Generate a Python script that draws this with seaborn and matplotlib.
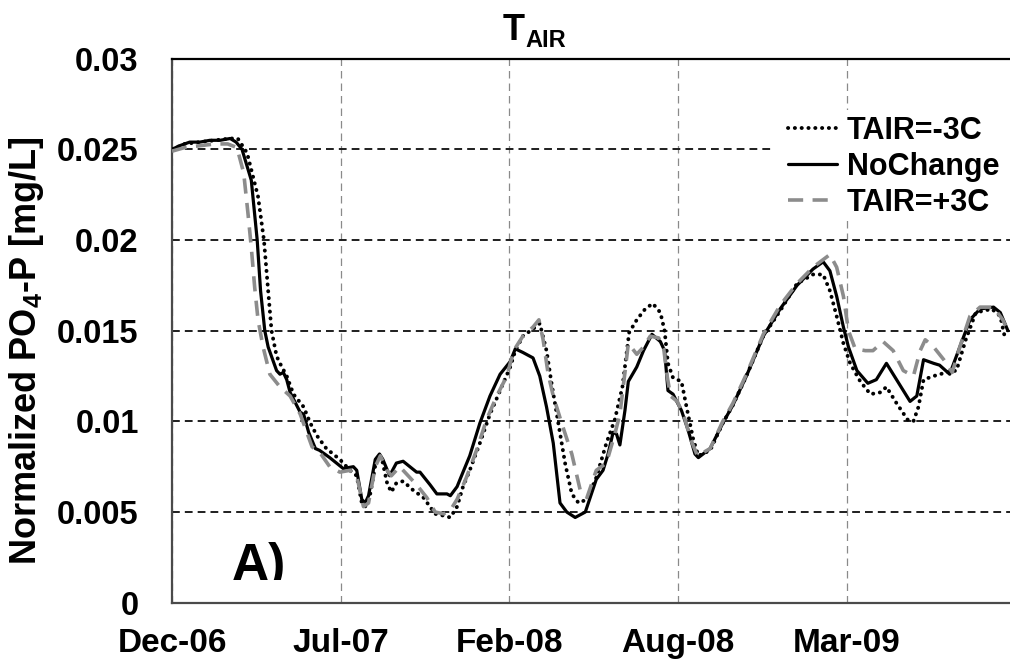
import matplotlib
matplotlib.use("Agg")
import matplotlib.pyplot as plt
import seaborn as sns
import pandas as pd
from matplotlib.patches import Rectangle
from matplotlib.transforms import Bbox, TransformedBbox

# ---------------- data (days since Dec-06, normalized PO4-P mg/L) ----------------
days_minus3 = [0, 15, 33, 51, 69, 78, 89, 102, 109, 114,
               118, 124, 128, 136, 144, 156, 164, 172, 183, 199,
               211, 219, 225, 229, 235, 243, 249, 255, 260, 266,
               274, 286, 298, 312, 322, 330, 338, 345, 353, 365,
               377, 389, 401, 407, 416, 428, 436, 444, 450, 458,
               466, 474, 482, 492, 503, 515, 525, 534, 542, 551,
               561, 570, 579, 584, 588, 594, 604, 610, 618, 624,
               638, 653, 665, 681, 701, 721, 741, 760, 772, 780,
               788, 796, 804, 816, 828, 840, 847, 859, 872, 879,
               885, 891, 903, 918, 930, 941, 953, 972, 982, 988]
po4_minus3 = [0.0250, 0.0253, 0.0254, 0.0255, 0.0256, 0.0256, 0.0248, 0.0224, 0.0200, 0.0172,
              0.0150, 0.0136, 0.0132, 0.0125, 0.0115, 0.0108, 0.0099, 0.0092, 0.0085, 0.0079,
              0.0073, 0.0070, 0.0055, 0.0053, 0.0060, 0.0081, 0.0079, 0.0066, 0.0061, 0.0066,
              0.0067, 0.0062, 0.0058, 0.0049, 0.0048, 0.0047, 0.0053, 0.0064, 0.0073, 0.0088,
              0.0104, 0.0117, 0.0130, 0.0139, 0.0147, 0.0151, 0.0154, 0.0139, 0.0121, 0.0099,
              0.0077, 0.0060, 0.0055, 0.0057, 0.0069, 0.0088, 0.0101, 0.0119, 0.0149, 0.0156,
              0.0162, 0.0165, 0.0160, 0.0150, 0.0132, 0.0124, 0.0122, 0.0108, 0.0090, 0.0081,
              0.0084, 0.0099, 0.0109, 0.0125, 0.0147, 0.0161, 0.0176, 0.0181, 0.0181, 0.0172,
              0.0158, 0.0143, 0.0132, 0.0122, 0.0115, 0.0116, 0.0119, 0.0110, 0.0101, 0.0100,
              0.0108, 0.0123, 0.0125, 0.0127, 0.0128, 0.0145, 0.0160, 0.0162, 0.0158, 0.0145]

days_nochange = [0, 9, 21, 33, 45, 57, 69, 76, 83, 94,
                 101, 105, 110, 114, 124, 128, 132, 136, 140, 152,
                 156, 162, 170, 175, 187, 203, 215, 219, 225, 229,
                 233, 241, 246, 250, 258, 266, 274, 282, 290, 294,
                 306, 314, 320, 326, 330, 338, 345, 353, 365, 377,
                 389, 401, 407, 416, 428, 436, 444, 452, 460, 468,
                 478, 490, 503, 511, 517, 523, 527, 531, 537, 541,
                 551, 559, 569, 579, 584, 588, 594, 604, 612, 620,
                 624, 638, 653, 665, 681, 701, 721, 741, 760, 772,
                 780, 788, 796, 802, 812, 825, 835, 847, 859, 875,
                 883, 891, 903, 910, 922, 934, 946, 958, 974, 982,
                 991]
po4_nochange = [0.0250, 0.0252, 0.0254, 0.0254, 0.0255, 0.0255, 0.0256, 0.0254, 0.0250, 0.0233,
                0.0200, 0.0172, 0.0150, 0.0141, 0.0128, 0.0126, 0.0127, 0.0123, 0.0116, 0.0105,
                0.0104, 0.0094, 0.0085, 0.0084, 0.0080, 0.0074, 0.0075, 0.0073, 0.0057, 0.0055,
                0.0059, 0.0079, 0.0082, 0.0079, 0.0070, 0.0077, 0.0078, 0.0075, 0.0072, 0.0072,
                0.0065, 0.0060, 0.0060, 0.0060, 0.0059, 0.0064, 0.0072, 0.0081, 0.0099, 0.0114,
                0.0126, 0.0133, 0.0140, 0.0138, 0.0135, 0.0125, 0.0108, 0.0088, 0.0055, 0.0050,
                0.0047, 0.0050, 0.0068, 0.0073, 0.0082, 0.0094, 0.0093, 0.0087, 0.0106, 0.0122,
                0.0130, 0.0139, 0.0148, 0.0144, 0.0139, 0.0117, 0.0115, 0.0106, 0.0095, 0.0082,
                0.0080, 0.0085, 0.0099, 0.0109, 0.0125, 0.0147, 0.0162, 0.0175, 0.0184, 0.0188,
                0.0183, 0.0169, 0.0152, 0.0141, 0.0128, 0.0121, 0.0123, 0.0132, 0.0123, 0.0111,
                0.0114, 0.0134, 0.0132, 0.0131, 0.0126, 0.0141, 0.0156, 0.0162, 0.0163, 0.0160,
                0.0150]

days_plus3 = [0, 15, 33, 51, 66, 77, 85, 90, 94, 98,
              102, 108, 116, 128, 140, 152, 166, 175, 187, 199,
              211, 219, 227, 233, 241, 247, 255, 260, 270, 278,
              290, 302, 312, 322, 330, 338, 349, 361, 373, 385,
              397, 405, 416, 428, 435, 440, 446, 452, 462, 474,
              484, 492, 503, 515, 525, 531, 537, 541, 551, 559,
              567, 577, 583, 587, 591, 599, 607, 615, 623, 638,
              653, 665, 681, 701, 721, 741, 760, 780, 788, 796,
              802, 810, 822, 831, 843, 855, 867, 879, 887, 893,
              903, 915, 925, 934, 946, 958, 974, 985, 991]
po4_plus3 = [0.0249, 0.0251, 0.0252, 0.0253, 0.0253, 0.0251, 0.0237, 0.0215, 0.0196, 0.0174,
             0.0156, 0.0141, 0.0126, 0.0119, 0.0114, 0.0104, 0.0086, 0.0083, 0.0075, 0.0072,
             0.0073, 0.0070, 0.0053, 0.0055, 0.0075, 0.0081, 0.0073, 0.0070, 0.0075, 0.0071,
             0.0065, 0.0058, 0.0050, 0.0049, 0.0051, 0.0057, 0.0069, 0.0084, 0.0101, 0.0114,
             0.0125, 0.0139, 0.0147, 0.0152, 0.0156, 0.0145, 0.0126, 0.0114, 0.0099, 0.0082,
             0.0062, 0.0058, 0.0073, 0.0077, 0.0093, 0.0104, 0.0127, 0.0143, 0.0137, 0.0141,
             0.0147, 0.0146, 0.0140, 0.0125, 0.0114, 0.0111, 0.0103, 0.0090, 0.0081, 0.0085,
             0.0100, 0.0110, 0.0126, 0.0148, 0.0164, 0.0176, 0.0185, 0.0192, 0.0185, 0.0169,
             0.0150, 0.0140, 0.0139, 0.0139, 0.0144, 0.0139, 0.0128, 0.0125, 0.0139, 0.0145,
             0.0141, 0.0134, 0.0127, 0.0141, 0.0158, 0.0163, 0.0163, 0.0156, 0.0150]

series_labels = ["TAIR=-3C", "NoChange", "TAIR=+3C"]
x_tick_days = [0, 200, 400, 600, 800]
x_tick_labels = ["Dec-06", "Jul-07", "Feb-08", "Aug-08", "Mar-09"]
y_ticks = [0, 0.005, 0.01, 0.015, 0.02, 0.025, 0.03]
y_tick_labels = ["0", "0.005", "0.01", "0.015", "0.02", "0.025", "0.03"]

# ---------------- style ----------------
sns.set_theme(style="white")
plt.rcParams["font.family"] = ["Liberation Sans", "DejaVu Sans"]
plt.rcParams["font.weight"] = "bold"
plt.rcParams["mathtext.fontset"] = "custom"
plt.rcParams["mathtext.bf"] = "Liberation Sans:bold"
plt.rcParams["mathtext.rm"] = "Liberation Sans:bold"
plt.rcParams["mathtext.it"] = "Liberation Sans:bold"
plt.rcParams["text.color"] = "black"
plt.rcParams["axes.labelcolor"] = "black"

fig = plt.figure(figsize=(10.10, 6.61), dpi=100)
fig.patch.set_facecolor("white")
ax = fig.add_axes([0.1703, 0.0882, 1 - 0.1703, 0.9112 - 0.0882])
ax.set_facecolor("white")

df_m = pd.DataFrame({"day": days_minus3, "po4": po4_minus3})
df_n = pd.DataFrame({"day": days_nochange, "po4": po4_nochange})
df_p = pd.DataFrame({"day": days_plus3, "po4": po4_plus3})

sns.lineplot(data=df_m, x="day", y="po4", ax=ax, color="black", lw=2.8,
             linestyle=(0, (0.05, 1.7)), dash_capstyle="round", zorder=3)
sns.lineplot(data=df_n, x="day", y="po4", ax=ax, color="black", lw=2.3, zorder=4)
sns.lineplot(data=df_p, x="day", y="po4", ax=ax, color="#8c8c8c", lw=2.6,
             linestyle=(0, (4.2, 2.6)), zorder=5)
lines = ax.get_lines()

ax.set_xlim(0, 993.5)
ax.set_ylim(0, 0.03)
ax.set_xticks(x_tick_days)
ax.set_xticklabels(x_tick_labels, fontsize=24, fontweight="bold")
ax.set_yticks(y_ticks)
ax.set_yticklabels(y_tick_labels, fontsize=23.5, fontweight="bold")
ax.tick_params(axis="x", length=0, pad=18, colors="black")
ax.tick_params(axis="y", length=0, pad=24, colors="black")
ax.set_xlabel("")
ax.set_ylabel(r"Normalized PO$_\mathbf{4}$-P [mg/L]", fontsize=26, fontweight="bold",
              color="black")
ax.yaxis.set_label_coords(-0.150, 0.464)

# grid
ax.set_axisbelow(True)
ax.yaxis.grid(True, color="#1e1e1e", lw=1.4, linestyle=(0, (4, 2.6)))
ax.xaxis.grid(True, color="#8a8a8a", lw=0.9, linestyle=(0, (6, 4)))

# spines
for s in ["left", "bottom"]:
    ax.spines[s].set_color("#4a4a4a")
    ax.spines[s].set_linewidth(1.6)
ax.spines["top"].set_color("black")
ax.spines["top"].set_linewidth(1.6)
ax.spines["right"].set_visible(False)

# white box behind legend (hides grid)
ax.add_patch(Rectangle((0.717, 0.707), 0.30, 0.199, transform=ax.transAxes,
                       facecolor="white", edgecolor="none", zorder=1.5, clip_on=False))
leg = ax.legend(handles=lines, labels=series_labels, loc="upper left",
                bbox_to_anchor=(0.735, 0.895), frameon=False, borderpad=0, borderaxespad=0,
                handlelength=1.6, handletextpad=0.33, labelspacing=0.2,
                prop={"weight": "bold", "size": 22})
for txt in leg.get_texts():
    txt.set_color("black")

# panel letter, clipped at baseline
t = ax.text(0.071, 0.0417, "A)", transform=ax.transAxes, fontsize=37,
            fontweight="bold", color="black", ha="left", va="baseline", clip_on=True)
t.set_clip_box(TransformedBbox(Bbox([[0, 0.0417], [1, 1]]), ax.transAxes))

# title T_AIR
fig.text(503 / 1010, 1 - 40 / 661, "T", fontsize=26, fontweight="bold", color="black",
         ha="left", va="baseline")
fig.text(525 / 1010, 1 - 47 / 661, "AIR", fontsize=17, fontweight="bold", color="black",
         ha="left", va="baseline")

fig.savefig("out.png", dpi=100, facecolor="white")
